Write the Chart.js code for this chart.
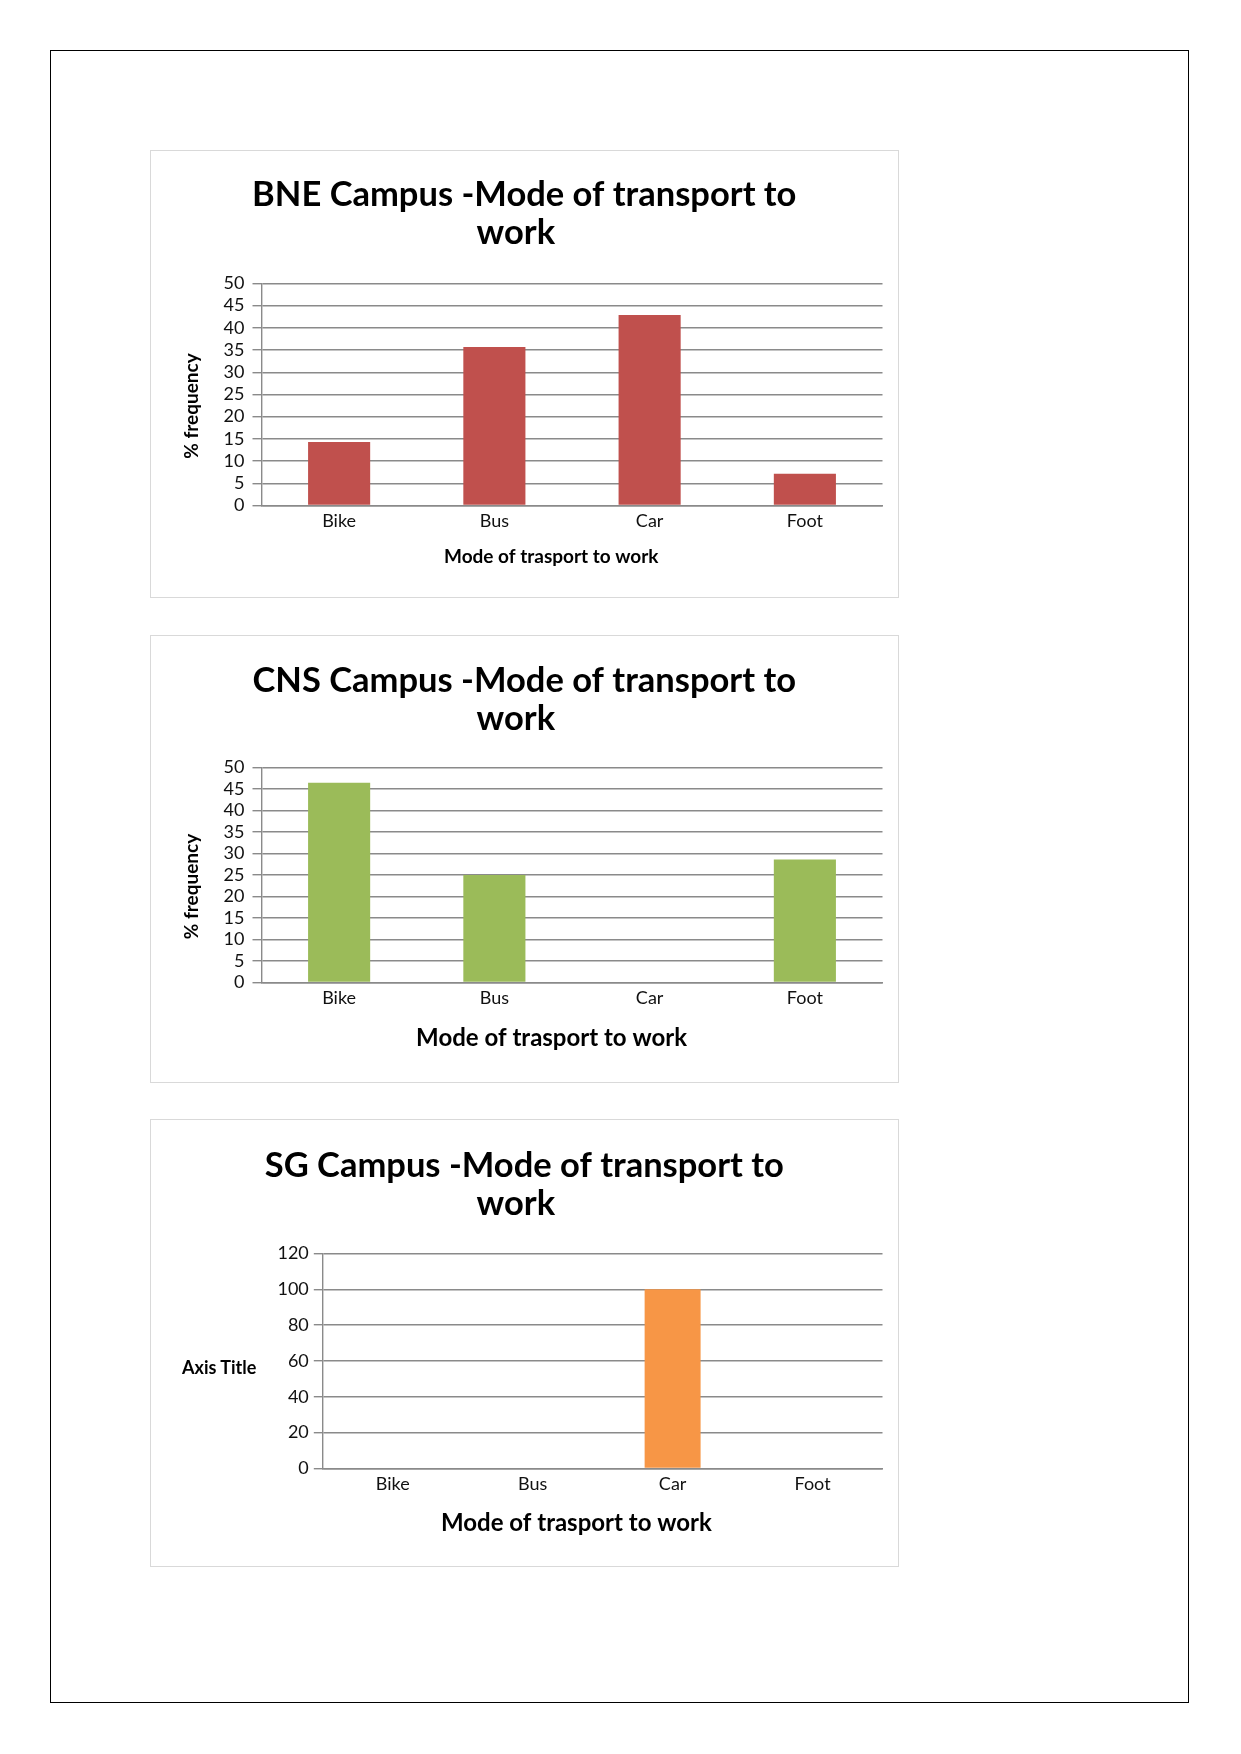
<!DOCTYPE html>
<html>
<head>
<meta charset="utf-8">
<script src="https://cdn.jsdelivr.net/npm/chart.js@4/dist/chart.umd.min.js"></script>
<style>
  body { margin: 0; background: #fff; width: 1241px; height: 1754px; position: relative; font-family: Lato, sans-serif; }
  .page { position: absolute; left: 50px; top: 50px; width: 1137px; height: 1651px; border: 1.5px solid #000; }
  .box { position: absolute; left: 150px; width: 747px; height: 446px; border: 1.5px solid #d9d9d9; }
  .box canvas { display: block; }
  .axisTitle { position: absolute; font: bold 18px Lato, sans-serif; color: #000; }
</style>
</head>
<body>
<div class="page"></div>
<div class="box" style="top:150px"><canvas id="bne"></canvas></div>
<div class="box" style="top:635px"><canvas id="cns"></canvas></div>
<div class="box" style="top:1119px"><canvas id="sg"></canvas><div class="axisTitle" style="left:31px;top:236px">Axis Title</div></div>
<script>
// categories
const modes = ['Bike', 'Bus', 'Car', 'Foot'];

// % of staff per mode, one list per campus
const bneValues = [14.29, 35.71, 42.86, 7.14];
const cnsValues = [46.43, 25, 0, 28.57];
const sgValues = [0, 0, 100, 0];

// y axis ranges
const pctMax = 50, pctStep = 5;
const sgMax = 120, sgStep = 20;

const gridGrey = '#8a8a8a';

function pad(n) { return ' '.repeat(n); }

function makeChart(id, cfg) {
  var scaleY = {
    min: 0,
    max: cfg.max,
    ticks: { stepSize: cfg.step, autoSkip: false, color: '#111', padding: cfg.tickPad, font: { family: 'Lato', size: 18 } },
    grid: { color: gridGrey, lineWidth: 1.4, tickLength: 9 },
    border: { color: gridGrey, width: 1.4 },
    title: {
      display: !!cfg.yTitle,
      // trailing spaces nudge the rotated label down a little, like the original
      text: cfg.yTitle + pad(5),
      color: '#000',
      padding: { top: 14, bottom: 0 },
      font: { family: 'Lato', size: 19, weight: 'bold' }
    },
    afterFit: function(s) { s.width = cfg.yWidth; }
  };
  var scaleX = {
    ticks: { color: '#111', padding: cfg.xTickPad, font: { family: 'Lato', size: 18 } },
    grid: { display: false, drawTicks: false },
    border: { color: gridGrey, width: 1.4 },
    title: {
      display: true,
      // the original axis title sits left of the plot centre
      text: 'Mode of trasport to work' + pad(cfg.xShift),
      color: '#000',
      padding: { top: 0, bottom: cfg.xTitlePad },
      font: { family: 'Lato', size: cfg.xTitleSize, weight: 'bold' }
    },
    afterFit: function(s) { s.height = cfg.xHeight; }
  };

  return new Chart(document.getElementById(id), {
    type: 'bar',
    data: {
      labels: modes,
      datasets: [{
        data: cfg.values,
        backgroundColor: cfg.color,
        barPercentage: 0.4,
        categoryPercentage: 1
      }]
    },
    options: {
      animation: false,
      responsive: true,
      maintainAspectRatio: false,
      layout: { padding: { left: 15, right: 15.5, top: cfg.padTop, bottom: 0 } },
      plugins: {
        legend: { display: false },
        tooltip: { enabled: false },
        title: {
          display: true,
          text: cfg.title,
          color: '#000',
          padding: { top: 0, bottom: cfg.titlePad },
          font: { family: 'Lato', size: 34.5, weight: 'bold', lineHeight: 1.1 }
        }
      },
      scales: { x: scaleX, y: scaleY }
    }
  });
}

makeChart('bne', {
  title: ['BNE Campus -Mode of transport to', 'work  '],
  values: bneValues, color: '#C0504D', max: pctMax, step: pctStep,
  yTitle: '% frequency', yWidth: 95.5, tickPad: 8, xTickPad: 5,
  padTop: 25, titlePad: 31.5, xHeight: 91.5, xTitleSize: 19, xTitlePad: 28.4, xShift: 9
});

makeChart('cns', {
  title: ['CNS Campus -Mode of transport to', 'work  '],
  values: cnsValues, color: '#9BBB59', max: pctMax, step: pctStep,
  yTitle: '% frequency', yWidth: 95.5, tickPad: 8, xTickPad: 5,
  padTop: 25.5, titlePad: 30, xHeight: 99.5, xTitleSize: 24, xTitlePad: 29.4, xShift: 7
});

makeChart('sg', {
  title: ['SG Campus -Mode of transport to', 'work  '],
  values: sgValues, color: '#F79646', max: sgMax, step: sgStep,
  yTitle: '', yWidth: 156.8, tickPad: 5, xTickPad: 5,
  padTop: 26.5, titlePad: 31.1, xHeight: 97.5, xTitleSize: 24, xTitlePad: 28.4, xShift: 9
});
</script>
</body>
</html>
